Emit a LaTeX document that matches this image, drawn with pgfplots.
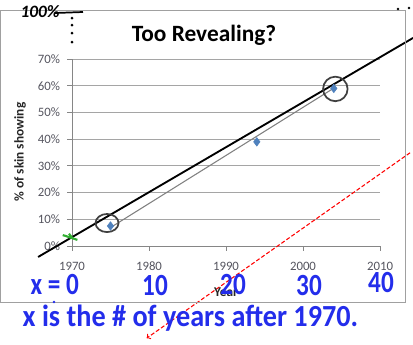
\documentclass[border=0pt]{standalone}
\usepackage{fontspec}
\setmainfont{Carlito}
\usepackage{graphicx}
\usepackage{pgfplots}
\pgfplotsset{compat=1.18}
\definecolor{axisgray}{RGB}{134,134,134}
\definecolor{gridgray}{RGB}{165,165,165}
\definecolor{labelgray}{RGB}{85,85,95}
\definecolor{xlblue}{RGB}{79,129,189}
\definecolor{trendgray}{RGB}{128,128,128}
\definecolor{penblue}{RGB}{35,45,235}
\definecolor{pengreen}{RGB}{50,175,50}
\definecolor{framegray}{RGB}{160,160,160}
\begin{document}
\begin{tikzpicture}
\useasboundingbox (-54pt,-73.5pt) rectangle (255.75pt,184.5pt);
\begin{axis}[
  at={(0,0)}, anchor=south west,
  scale only axis, width=231pt, height=140.25pt,
  xmin=1970, xmax=2010, ymin=0, ymax=70,
  axis lines*=left,
  axis line style={draw=axisgray, line width=0.6pt},
  xtick={1970,1980,1990,2000,2010},
  ytick={0,10,20,30,40,50,60,70},
  ymajorgrids, grid style={draw=gridgray, line width=0.6pt},
  tick align=outside, major tick length=3.5pt,
  tick style={draw=axisgray, line width=0.6pt},
  /pgf/number format/assume math mode=true,
  /pgf/number format/1000 sep={},
  xticklabel style={font=\fontsize{9.6}{10}\selectfont, text=labelgray, yshift=-5pt},
  yticklabel={\pgfmathprintnumber{\tick}\%},
  yticklabel style={font=\fontsize{9.6}{10}\selectfont, text=labelgray, xshift=-2pt},
  clip=false,
]
% trendline
\addplot[trendgray, line width=0.8pt] coordinates {(1975,6.9) (2004,59.1)};
% data
\addplot[only marks, mark=diamond*, mark size=3.2pt, color=xlblue, fill=xlblue] coordinates {
  (1975,7.5) (1994,39) (2004,59)
};
% handwritten black line
\addplot[black, line width=1.4pt] coordinates {(1965.6,-4.1) (2014.3,77.9)};
% handwritten circles
\addplot[only marks, mark=o, mark size=9.2pt, color=black!75, mark options={line width=1.3pt}] coordinates {(2004.2,58.8)};
\addplot[only marks, mark=o, mark size=6.8pt, color=black!75, mark options={line width=1.3pt, xscale=1.27}] coordinates {(1974.55,8.6)};
% green scribble
\addplot[pengreen, line width=1.6pt] coordinates {(1968.8,4.1) (1970.7,2.3)};
\addplot[pengreen, line width=1.6pt] coordinates {(1969.6,4.6) (1970.1,2.8)};
% red dashed arrow
\addplot[red, line width=0.8pt, dash pattern=on 3pt off 1.6pt, ->] coordinates {(2013.9,34.9) (1979.7,-34.5)};
\end{axis}
\begin{scope}[shift={(-54pt,184.5pt)}, x=0.75pt, y=-0.75pt]
  \draw[framegray, line width=0.75pt] (1,10) rectangle (405,302);
  \node[font=\bfseries\fontsize{17.5}{19}\selectfont] at (204,35) {Too Revealing?};
  \node[rotate=90, font=\bfseries\fontsize{10}{11}\selectfont, text=black!85] at (20,152) {\% of skin showing};
  \node[font=\bfseries\fontsize{10}{11}\selectfont, text=black!85] at (226,292) {Year};
  % handwritten black top-left
  \node[font=\bfseries\itshape\fontsize{13}{14}\selectfont] at (40,12) {100\%};
  \draw[black, line width=1.3pt] (55,13) -- (83,12);
  \foreach \yy in {18,25,33,42} \fill (72,\yy) circle (1.5);
  \fill (398,9) circle (1.3);
  \fill (409,8) circle (1.3);
  % handwritten blue
  \begin{scope}[text=penblue]
  \node[font=\bfseries\fontsize{21}{22}\selectfont, anchor=west] at (26,284) {\scalebox{0.9}[1.1]{x = 0}};
  \node[font=\bfseries\fontsize{21}{22}\selectfont] at (155,285) {\scalebox{0.9}[1.1]{10}};
  \node[font=\bfseries\fontsize{21}{22}\selectfont] at (233,284) {\scalebox{0.9}[1.1]{20}};
  \node[font=\bfseries\fontsize{21}{22}\selectfont] at (309,285) {\scalebox{0.9}[1.1]{30}};
  \node[font=\bfseries\fontsize{21}{22}\selectfont] at (381,282) {\scalebox{0.9}[1.1]{40}};
  \node[font=\bfseries\fontsize{23}{24}\selectfont, anchor=base west] at (18,326) {\scalebox{0.92}[1]{x is the \# of years after 1970.}};
  \end{scope}
  \fill[penblue] (54,302) circle (1.3);
\end{scope}
\end{tikzpicture}
\end{document}
